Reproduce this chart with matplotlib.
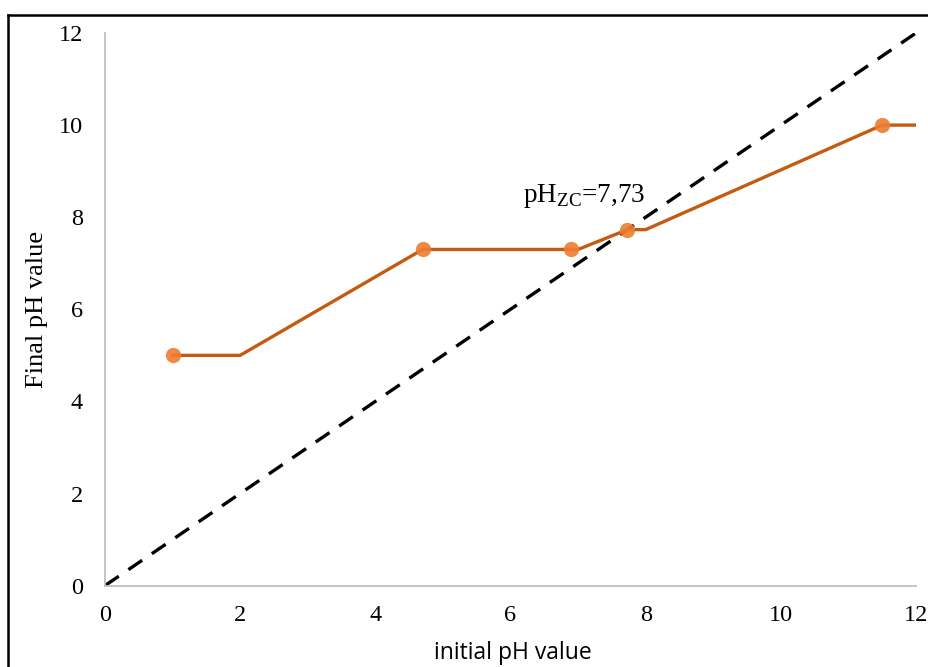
import matplotlib
matplotlib.use("Agg")
import matplotlib.pyplot as plt
from matplotlib.lines import Line2D

plt.rcParams['mathtext.fontset'] = 'custom'
plt.rcParams['mathtext.rm'] = 'Liberation Serif'

# data
line_x = [1, 2, 4.7, 7.0, 7.73, 8.0, 11.5, 12]
line_y = [5, 5, 7.3, 7.3, 7.73, 7.73, 10, 10]
pts_x = [1, 4.7, 6.9, 7.73, 11.5]
pts_y = [5, 7.3, 7.3, 7.73, 10]
ref_x = [0, 12]
ref_y = [0, 12]
ticks = [0, 2, 4, 6, 8, 10, 12]

W, H = 929, 667
fig = plt.figure(figsize=(W/100, H/100), dpi=100)
ax = fig.add_axes([105/W, 1-585.6/H, (916-105)/W, (585.6-33)/H])

ax.plot(ref_x, ref_y, color='black', lw=2.4, dashes=(5, 3.5), zorder=2)
ax.plot(line_x, line_y, color='#C55A11', lw=2.4, zorder=3)
ax.plot(pts_x, pts_y, 'o', color='#ED7D31', ms=11, alpha=0.9, mec='none', zorder=4)

ax.set_xlim(0, 12)
ax.set_ylim(0, 12)
ax.set_xticks(ticks)
ax.set_yticks(ticks)
ax.set_xticklabels([str(t) for t in ticks], family='Liberation Serif', fontsize=17.5)
ax.set_yticklabels([str(t) for t in ticks], family='Liberation Serif', fontsize=17.5)
ax.tick_params(length=0)
ax.tick_params(axis='x', pad=14)
ax.tick_params(axis='y', pad=16)
for s in ['top', 'right']:
    ax.spines[s].set_visible(False)
for s in ['left', 'bottom']:
    ax.spines[s].set_color('#BFBFBF')
    ax.spines[s].set_linewidth(1.3)

fig.text(513/W, 1-653/H, 'initial pH value', family='Open Sans', fontsize=16.5,
         ha='center', va='center')
fig.text(37/W, 1-309/H, 'Final pH value', family='Liberation Serif', fontsize=19,
         ha='center', va='center', rotation=90)

ax.text(6.18, 8.33, r'pH$_{\mathrm{ZC}}$=7,73', family='Liberation Serif', fontsize=19.5,
        ha='left', va='baseline')

# outer frame
fig.add_artist(Line2D([8/W, 8/W], [0, 1-15/H], transform=fig.transFigure, color='black', lw=1.8))
fig.add_artist(Line2D([8/W, 1], [1-15/H, 1-15/H], transform=fig.transFigure, color='black', lw=1.8))

fig.savefig('out.png', dpi=100)
